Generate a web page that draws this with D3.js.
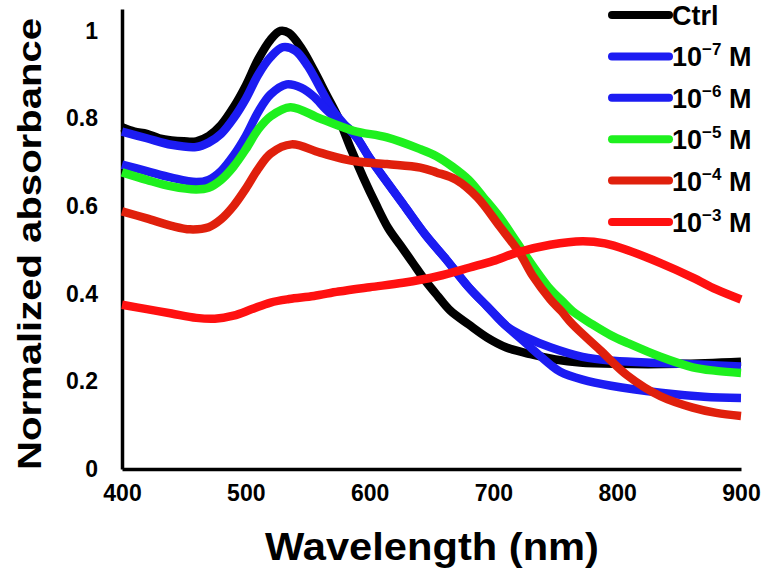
<!DOCTYPE html>
<html>
<head>
<meta charset="utf-8">
<script src="https://cdn.jsdelivr.net/npm/d3@7"></script>
<style>
  body { margin: 0; background: #fff; }
  text { font-family: "Liberation Sans", Arial, sans-serif; font-weight: bold; fill: #000; }
</style>
</head>
<body>
<div id="chart"></div>
<script>
// wavelength (nm), normalized absorbance
const ctrl = [[400,0.78],[410,0.77],[420,0.765],[430,0.755],[440,0.75],[450,0.748],[460,0.748],[470,0.76],[480,0.785],[490,0.825],[500,0.875],[510,0.935],[520,0.98],[528,1.0],[535,0.995],[545,0.96],[555,0.91],[565,0.855],[575,0.8],[585,0.73],[595,0.665],[605,0.605],[615,0.55],[625,0.51],[635,0.47],[645,0.43],[655,0.395],[665,0.362],[680,0.33],[695,0.3],[710,0.278],[730,0.262],[750,0.25],[770,0.243],[800,0.24],[850,0.24],[900,0.245]];

const m7 = [[400,0.77],[420,0.755],[440,0.74],[460,0.735],[470,0.745],[480,0.765],[490,0.8],[500,0.845],[510,0.9],[520,0.94],[530,0.963],[540,0.955],[550,0.92],[560,0.87],[570,0.82],[580,0.785],[590,0.755],[600,0.71],[614,0.655],[627,0.605],[645,0.535],[662,0.478],[680,0.415],[695,0.371],[711,0.325],[727,0.3],[746,0.278],[772,0.256],[797,0.247],[835,0.242],[870,0.238],[900,0.234]];

const m6 = [[400,0.695],[420,0.68],[440,0.665],[460,0.655],[470,0.66],[480,0.68],[490,0.715],[500,0.76],[510,0.815],[520,0.855],[533,0.878],[545,0.87],[555,0.85],[565,0.82],[575,0.795],[586,0.77],[600,0.71],[614,0.655],[627,0.605],[645,0.535],[662,0.478],[680,0.415],[695,0.371],[711,0.325],[727,0.285],[746,0.238],[754,0.222],[772,0.204],[795,0.19],[835,0.174],[870,0.165],[900,0.162]];

const m5 = [[400,0.677],[420,0.66],[440,0.645],[460,0.638],[470,0.642],[480,0.66],[490,0.69],[500,0.73],[510,0.775],[520,0.805],[536,0.826],[560,0.8],[587,0.772],[614,0.757],[641,0.73],[654,0.714],[667,0.69],[680,0.66],[692,0.62],[705,0.575],[719,0.517],[732,0.463],[746,0.41],[755,0.385],[764,0.36],[780,0.33],[795,0.305],[808,0.288],[835,0.256],[861,0.232],[880,0.224],[900,0.219]];

const m4 = [[400,0.588],[420,0.572],[440,0.555],[455,0.547],[470,0.552],[480,0.57],[490,0.6],[500,0.64],[510,0.685],[520,0.72],[537,0.741],[560,0.722],[587,0.703],[614,0.696],[641,0.688],[654,0.677],[670,0.66],[687,0.62],[705,0.554],[721,0.494],[732,0.44],[746,0.387],[755,0.36],[764,0.33],[786,0.272],[808,0.214],[835,0.166],[861,0.14],[880,0.128],[900,0.121]];

const m3 = [[400,0.375],[420,0.365],[440,0.355],[460,0.345],[475,0.343],[490,0.35],[505,0.365],[520,0.38],[535,0.388],[555,0.395],[575,0.405],[600,0.415],[627,0.425],[655,0.44],[681,0.46],[700,0.475],[719,0.494],[746,0.512],[772,0.52],[790,0.515],[808,0.5],[835,0.47],[861,0.437],[880,0.41],[900,0.387]];

const seriesNames = ["Ctrl", "10|−7", "10|−6", "10|−5", "10|−4", "10|−3"];
const seriesData = [ctrl, m7, m6, m5, m4, m3];
const seriesColors = ["#000000", "#1c1cf2", "#1c1cf2", "#1ef01e", "#e0200c", "#ff1010"];

const xTicks = [400, 500, 600, 700, 800, 900];
const yTicks = [0, 0.2, 0.4, 0.6, 0.8, 1];

const width = 765, height = 574;
const margin = { left: 122, right: 24, top: 9, bottom: 105 };

const svg = d3.select("#chart").append("svg")
  .attr("width", width)
  .attr("height", height);

const x = d3.scaleLinear().domain([400, 900]).range([margin.left, width - margin.right]);
const y = d3.scaleLinear().domain([0, 1.05]).range([height - margin.bottom, margin.top]);

// axes: plain lines, no tick marks
const xAxis = svg.append("g")
  .attr("transform", `translate(0,${y(0)})`)
  .call(d3.axisBottom(x).tickValues(xTicks).tickSize(0).tickPadding(16).tickFormat(d3.format("d")));
const yAxis = svg.append("g")
  .attr("transform", `translate(${x(400)},0)`)
  .call(d3.axisLeft(y).tickValues(yTicks).tickSize(0).tickPadding(24).tickFormat(d => d === 0 || d === 1 ? d : d3.format(".1f")(d)));

[xAxis, yAxis].forEach(g => {
  g.select(".domain").attr("stroke", "#000").attr("stroke-width", 3.5);
  g.selectAll(".tick text")
    .style("font-family", '"Liberation Sans", Arial, sans-serif')
    .style("font-weight", "bold")
    .style("font-size", "23px")
    .attr("fill", "#000");
});
xAxis.selectAll(".tick text").attr("dy", "0.71em");

const line = d3.line()
  .x(d => x(d[0]))
  .y(d => y(d[1]))
  .curve(d3.curveCatmullRom.alpha(0.5));

svg.append("g")
  .selectAll("path")
  .data(seriesData)
  .join("path")
  .attr("fill", "none")
  .attr("stroke", (d, i) => seriesColors[i])
  .attr("stroke-width", 8.5)
  .attr("stroke-linejoin", "round")
  .attr("d", line);

// axis titles
svg.append("text")
  .attr("transform", `translate(41,244) rotate(-90)`)
  .attr("text-anchor", "middle")
  .style("font-size", "34px")
  .attr("textLength", 452)
  .attr("lengthAdjust", "spacingAndGlyphs")
  .text("Normalized  absorbance");

svg.append("text")
  .attr("x", 432)
  .attr("y", 560)
  .attr("text-anchor", "middle")
  .style("font-size", "38px")
  .attr("textLength", 334)
  .attr("lengthAdjust", "spacingAndGlyphs")
  .text("Wavelength (nm)");

// legend
const legend = svg.append("g")
  .selectAll("g")
  .data(seriesNames)
  .join("g")
  .attr("transform", (d, i) => `translate(612,${15 + i * 41.4})`);

legend.append("line")
  .attr("x1", 0).attr("x2", 57)
  .attr("stroke", (d, i) => seriesColors[i])
  .attr("stroke-width", 8)
  .attr("stroke-linecap", "round");

legend.append("text")
  .attr("x", 60)
  .attr("y", 10)
  .style("font-size", "27px")
  .each(function (d) {
    const t = d3.select(this);
    const parts = d.split("|");
    if (parts.length === 1) {
      t.text(d);
      return;
    }
    t.append("tspan").text(parts[0]);
    t.append("tspan").attr("dy", -11).style("font-size", "17px").text(parts[1]);
    t.append("tspan").attr("dy", 11).text(" M");
  });
</script>
</body>
</html>
